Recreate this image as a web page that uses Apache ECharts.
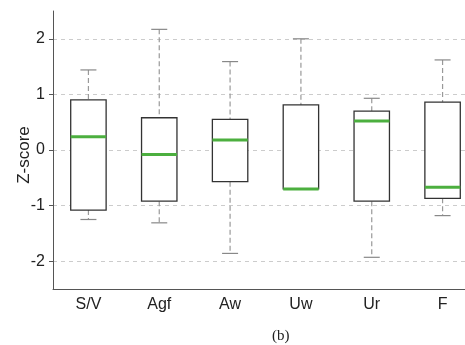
<!DOCTYPE html>
<html>
<head>
<meta charset="utf-8">
<script src="https://cdn.jsdelivr.net/npm/echarts@6/dist/echarts.min.js"></script>
<style>
  html, body { margin: 0; padding: 0; background: #fff; }
  #chart { width: 465px; height: 345px; }
</style>
</head>
<body>
<div id="chart"></div>
<script>
// categories and box stats
var categories = ['S/V', 'Agf', 'Aw', 'Uw', 'Ur', 'F'];
var lowWhisker = [-1.25, -1.31, -1.86, -0.70, -1.93, -1.18];
var q1 = [-1.08, -0.92, -0.57, -0.70, -0.92, -0.87];
var median = [0.24, -0.08, 0.18, -0.70, 0.52, -0.67];
var q3 = [0.90, 0.58, 0.55, 0.81, 0.70, 0.86];
var highWhisker = [1.44, 2.17, 1.59, 2.00, 0.93, 1.62];

var boxData = categories.map(function (c, i) {
  return [i, lowWhisker[i], q1[i], median[i], q3[i], highWhisker[i]];
});

function renderBox(params, api) {
  var i = api.value(0);
  var pLow = api.coord([i, api.value(1)]);
  var pQ1 = api.coord([i, api.value(2)]);
  var pMed = api.coord([i, api.value(3)]);
  var pQ3 = api.coord([i, api.value(4)]);
  var pHigh = api.coord([i, api.value(5)]);
  var cx = pMed[0];
  var bw = api.size([1, 0])[0] * 0.5;
  var cap = 8;
  var dash = { stroke: '#999', lineWidth: 1.2, lineDash: [5, 3] };
  var solidGray = { stroke: '#888', lineWidth: 1.2 };
  var kids = [];
  if (pHigh[1] < pQ3[1]) {
    kids.push({ type: 'line', shape: { x1: cx, y1: pHigh[1], x2: cx, y2: pQ3[1] }, style: dash });
    kids.push({ type: 'line', shape: { x1: cx - cap, y1: pHigh[1], x2: cx + cap, y2: pHigh[1] }, style: solidGray });
  }
  if (pLow[1] > pQ1[1]) {
    kids.push({ type: 'line', shape: { x1: cx, y1: pQ1[1], x2: cx, y2: pLow[1] }, style: dash });
    kids.push({ type: 'line', shape: { x1: cx - cap, y1: pLow[1], x2: cx + cap, y2: pLow[1] }, style: solidGray });
  }
  kids.push({
    type: 'rect',
    shape: { x: cx - bw / 2, y: pQ3[1], width: bw, height: pQ1[1] - pQ3[1] },
    style: { fill: '#fff', stroke: '#333', lineWidth: 1.3 }
  });
  kids.push({
    type: 'line',
    shape: { x1: cx - bw / 2, y1: pMed[1], x2: cx + bw / 2, y2: pMed[1] },
    style: { stroke: '#4caf3f', lineWidth: 3 }
  });
  return { type: 'group', children: kids };
}

var chart = echarts.init(document.getElementById('chart'));
chart.setOption({
  animation: false,
  textStyle: { fontFamily: 'Liberation Sans' },
  grid: { left: 53, right: -13, top: 11, bottom: 56, outerBoundsMode: 'none' },
  xAxis: {
    type: 'category',
    data: categories,
    boundaryGap: true,
    axisLine: { onZero: false, lineStyle: { color: '#555', width: 1 } },
    axisTick: { alignWithLabel: true, length: 4, lineStyle: { color: '#555' } },
    axisLabel: { color: '#222', fontSize: 16, margin: 8 },
    splitLine: { show: false }
  },
  yAxis: {
    type: 'value',
    min: -2.5,
    max: 2.5,
    splitNumber: 5,
    axisLine: { show: true, lineStyle: { color: '#555', width: 1 } },
    axisTick: { show: true, length: 4, lineStyle: { color: '#555' } },
    axisLabel: { color: '#222', fontSize: 16, margin: 8, showMinLabel: false, showMaxLabel: false },
    splitLine: { show: true, showMinLine: false, showMaxLine: false, lineStyle: { color: '#ccc', type: [4, 4] } }
  },
  series: [{
    type: 'custom',
    renderItem: renderBox,
    encode: { x: 0, y: [1, 2, 3, 4, 5] },
    data: boxData
  }],
  graphic: [{
    type: 'text',
    x: 24,
    y: 155,
    rotation: Math.PI / 2,
    style: { text: 'Z-score', font: '17px "Liberation Sans"', fill: '#222', align: 'center', verticalAlign: 'middle' }
  }, {
    type: 'text',
    left: 272,
    top: 329,
    style: { text: '(b)', font: '15px "Liberation Serif"', fill: '#222' }
  }]
});
</script>
</body>
</html>
